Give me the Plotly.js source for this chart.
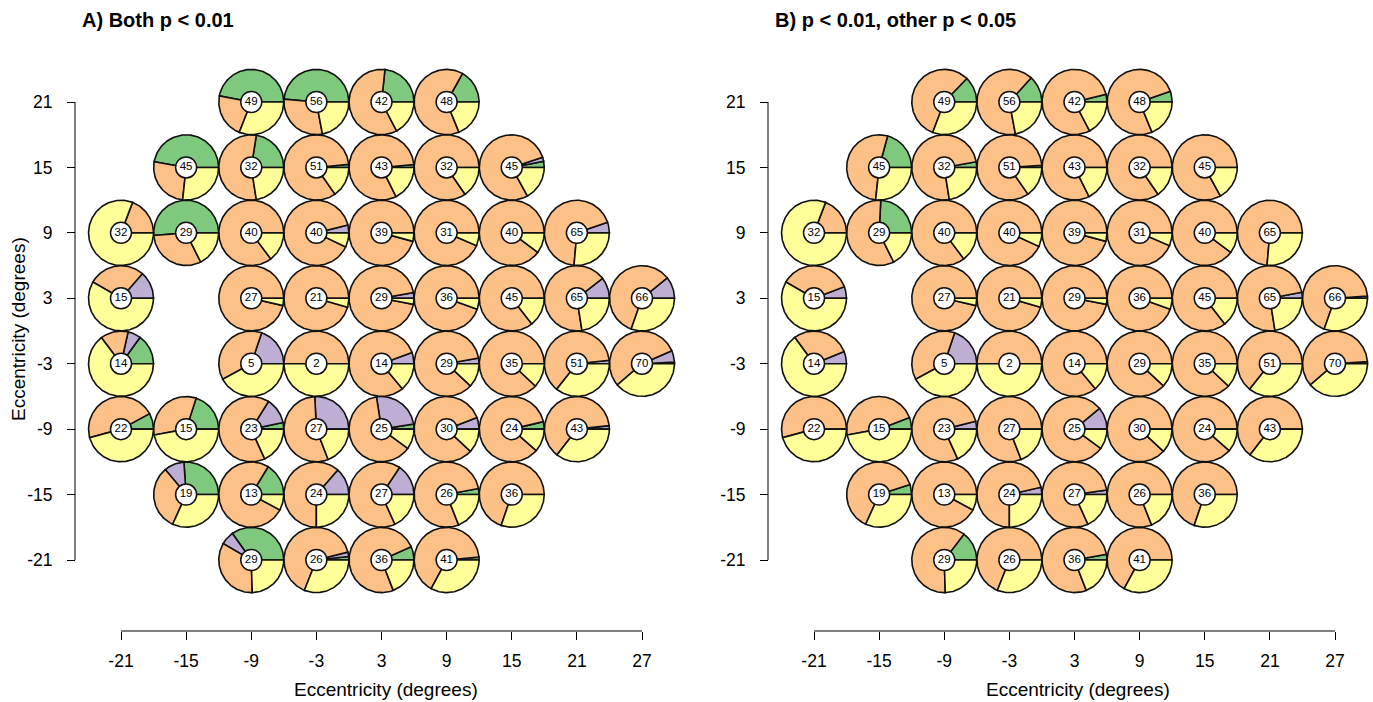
<!DOCTYPE html>
<html>
<head>
<meta charset="utf-8">
<script src="https://cdn.plot.ly/plotly-3.0.1.min.js"></script>
<style>html,body{margin:0;padding:0;background:#fff;}#chart{width:1373px;height:702px;}</style>
</head>
<body>
<div id="chart"></div>
<script>
// Cell centres (degrees) and counts shown in the centre of each pie
const cellX = [-9,-3,3,9,
  -15,-9,-3,3,9,15,
  -21,-15,-9,-3,3,9,15,21,
  -21,-9,-3,3,9,15,21,27,
  -21,-9,-3,3,9,15,21,27,
  -21,-15,-9,-3,3,9,15,21,
  -15,-9,-3,3,9,15,
  -9,-3,3,9];
const cellY = [21,21,21,21,
  15,15,15,15,15,15,
  9,9,9,9,9,9,9,9,
  3,3,3,3,3,3,3,3,
  -3,-3,-3,-3,-3,-3,-3,-3,
  -9,-9,-9,-9,-9,-9,-9,-9,
  -15,-15,-15,-15,-15,-15,
  -21,-21,-21,-21];
const counts = [49,56,42,48,
  45,32,51,43,32,45,
  32,29,40,40,39,31,40,65,
  15,27,21,29,36,45,65,66,
  14,5,2,14,29,35,51,70,
  22,15,23,27,25,30,24,43,
  19,13,24,27,26,36,
  29,26,36,41];

// Panel A: Both p < 0.01 (percent of each pie)
const greenA = [47,48.6,23.3,16.9,
  47.2,22.5,1.5,1.4,0,3,
  0,51.3,0,0,0,0,0,0,
  0,0,0,0,0,0,0,0,
  15,0,0,0,0,0,0,0.8,
  7.9,20,3.3,0,2.5,0,3.7,0,
  26.1,16.3,0,0,3,0,
  34.9,1.7,6.7,1.4];
const purpleA = [0,0,0,0,
  0,0,0,0,0,2,
  0,0,0,3.9,0,0,0,5.3,
  13.6,0,0,2.8,0,0,10.5,10.8,
  6.5,19.8,0,5.6,2.8,0,1.7,5.7,
  0,0,12.8,25.8,25,5.8,0,1.7,
  10,0,13.6,15.6,0,0,
  6.7,2.2,0,0];
const orangeA = [22,29.4,59.4,64.3,
  26.1,55,83.2,81,84.6,78,
  19.2,31.1,85.3,89,95.8,93.6,89.8,68.3,
  28.1,96.4,95.6,94.2,94.6,85.6,67,58.8,
  13.8,38.1,50,80.5,85.3,88,62.6,54.8,
  46.3,32.9,65.7,55.1,62.5,82.3,84.9,62.8,
  32.1,75.9,61.4,66.2,78,69.7,
  33.9,65.1,74.2,65.7];
const yellowA = [31,22,17.3,18.8,
  26.7,22.5,15.3,17.6,15.4,17,
  80.8,17.6,14.7,7.1,4.2,6.4,10.2,26.4,
  58.3,3.6,4.4,3,5.4,14.4,22.5,30.4,
  64.7,42.1,50,13.9,11.9,12,35.7,38.7,
  45.8,47.1,18.2,19.1,10,11.9,11.4,35.5,
  31.8,7.8,25,18.2,19,30.3,
  24.5,31,19.1,32.9];

// Panel B: p < 0.01, other p < 0.05
const greenB = [12.8,13.3,3.8,5.3,
  20.8,2.8,1.1,0,0,0,
  0,24.2,0,0,0,0,0,0,
  0,0,0,0,0,0,0,0,
  0,0,0,0,0,0,0,0,
  0,5.8,0,0,0,0,0,0,
  5,0,0,0,0,0,
  14.6,0,2.8,0];
const purpleB = [0,0,0,0,
  0,0,0,0,0,0,
  0,0,0,0,0,0,0,0,
  5.8,0,0,0,0,0,3,1.1,
  6.1,19.8,0,0,0,0,0,1,
  0,0,3.9,0,11,0,0,0,
  0,0,3.6,2.2,0,0,
  0,0,0,0];
const orangeB = [56.4,64.7,78.9,75.9,
  52.5,74.7,83.6,82.4,84.6,83,
  19.2,58.2,85.3,93.2,95.8,93.6,89.8,73.6,
  35.9,96.4,95.6,97,94.6,85.6,74.5,68.5,
  29,38.1,50,86.1,88.1,88,64.3,60.3,
  54.2,47.1,77.9,80.9,79,88.1,88.6,64.5,
  63.2,92.2,71.4,79.6,81,69.7,
  60.9,69,78.1,67.1];
const yellowB = [30.8,22,17.3,18.8,
  26.7,22.5,15.3,17.6,15.4,17,
  80.8,17.6,14.7,6.8,4.2,6.4,10.2,26.4,
  58.3,3.6,4.4,3,5.4,14.4,22.5,30.4,
  64.9,42.1,50,13.9,11.9,12,35.7,38.7,
  45.8,47.1,18.2,19.1,10,11.9,11.4,35.5,
  31.8,7.8,25,18.2,19,30.3,
  24.5,31,19.1,32.9];

const xTicks = [-21,-15,-9,-3,3,9,15,21,27];
const yTicks = [-21,-15,-9,-3,3,9,15,21];
const categoryColors = ['#7FC97F','#BEAED4','#FDC086','#FFFF99'];
const panelTitles = ['A) Both p < 0.01','B) p < 0.01, other p < 0.05'];
const axisTitle = 'Eccentricity (degrees)';

const R = 2.99;
function buildWedges(series, xa, ya) {
  const traces = [];
  for (let c = 0; c < 4; c++) {
    const xs = [], ys = [];
    for (let i = 0; i < cellX.length; i++) {
      const vals = series.map(s => s[i]);
      const tot = vals.reduce((a,b)=>a+b,0);
      let start = 0;
      for (let k = 0; k < c; k++) start += vals[k];
      const v = vals[c];
      if (v <= 0) continue;
      const a0 = start / tot * 2 * Math.PI, a1 = (start + v) / tot * 2 * Math.PI;
      xs.push(cellX[i]); ys.push(cellY[i]);
      const n = Math.max(2, Math.ceil((a1 - a0) / (Math.PI / 120)));
      for (let j = 0; j <= n; j++) {
        const a = a0 + (a1 - a0) * j / n;
        xs.push(cellX[i] + R * Math.cos(a));
        ys.push(cellY[i] + R * Math.sin(a));
      }
      xs.push(cellX[i]); ys.push(cellY[i]);
      xs.push(null); ys.push(null);
    }
    traces.push({
      type: 'scatter', mode: 'lines', x: xs, y: ys, xaxis: xa, yaxis: ya,
      fill: 'toself', fillcolor: categoryColors[c],
      line: {color: '#111', width: 1.6}, hoverinfo: 'skip', showlegend: false
    });
  }
  traces.push({
    type: 'scatter', mode: 'markers+text', x: cellX, y: cellY, xaxis: xa, yaxis: ya,
    text: counts.map(String), textposition: 'middle center',
    textfont: {family: 'Liberation Sans, Arial, sans-serif', size: 11.5, color: '#000'},
    marker: {size: 21, color: '#fff', line: {color: '#111', width: 1.5}},
    hoverinfo: 'skip', showlegend: false
  });
  return traces;
}

const data = [
  ...buildWedges([greenA, purpleA, orangeA, yellowA], 'x', 'y'),
  ...buildWedges([greenB, purpleB, orangeB, yellowB], 'x2', 'y2')
];

const W = 1373, H = 702;
const sx = 521 / 48, sy = 458 / 42;
const tickFont = {family: 'Liberation Sans, Arial, sans-serif', size: 17.5, color: '#000'};
const titleFont = {family: 'Liberation Sans, Arial, sans-serif', size: 19, color: '#000'};
function xAxis(leftPx, rightPx, zeroPx) {
  return {
    domain: [leftPx / W, rightPx / W],
    range: [-21 - (zeroPx - leftPx) / sx, -21 + (rightPx - zeroPx) / sx],
    anchor: 'free', position: 1 - 631 / H,
    tickvals: xTicks, ticktext: xTicks.map(String),
    ticks: 'outside', ticklen: 8, tickwidth: 1, tickcolor: '#000',
    ticklabelstandoff: 6,
    showline: false, showgrid: false, zeroline: false, tickfont: tickFont
  };
}
function yAxis(linePx) {
  return {
    domain: [1 - 610 / H, 1 - 50 / H],
    range: [-21 - (610 - 560) / sy, 21 + (102 - 50) / sy],
    anchor: 'free', position: linePx / W,
    tickvals: yTicks, ticktext: yTicks.map(String),
    ticks: 'outside', ticklen: 8, tickwidth: 1, tickcolor: '#000',
    ticklabelstandoff: 11,
    showline: false, showgrid: false, zeroline: false, tickfont: tickFont
  };
}

const layout = {
  width: W, height: H,
  margin: {l: 0, r: 0, t: 0, b: 0},
  paper_bgcolor: '#fff', plot_bgcolor: 'rgba(0,0,0,0)',
  showlegend: false,
  xaxis: xAxis(70, 690, 121),
  yaxis: yAxis(75),
  xaxis2: xAxis(763, 1373, 814),
  yaxis2: yAxis(768),
  shapes: [
    {type: 'line', xref: 'x', yref: 'paper', x0: xTicks[0], x1: xTicks[xTicks.length-1], y0: 1 - 631 / H, y1: 1 - 631 / H, line: {color: '#000', width: 1}},
    {type: 'line', xref: 'x2', yref: 'paper', x0: xTicks[0], x1: xTicks[xTicks.length-1], y0: 1 - 631 / H, y1: 1 - 631 / H, line: {color: '#000', width: 1}},
    {type: 'line', xref: 'paper', yref: 'y', x0: 75 / W, x1: 75 / W, y0: yTicks[0], y1: yTicks[yTicks.length-1], line: {color: '#000', width: 1}},
    {type: 'line', xref: 'paper', yref: 'y2', x0: 768 / W, x1: 768 / W, y0: yTicks[0], y1: yTicks[yTicks.length-1], line: {color: '#000', width: 1}}
  ],
  annotations: [
    {text: '<b>' + panelTitles[0].replace(/</g,'&lt;') + '</b>', xref: 'paper', yref: 'paper', x: 80 / W, y: 1 - 20 / H, xanchor: 'left', yanchor: 'middle', showarrow: false, font: {family: 'Liberation Sans, Arial, sans-serif', size: 20, color: '#000'}},
    {text: '<b>' + panelTitles[1].replace(/</g,'&lt;') + '</b>', xref: 'paper', yref: 'paper', x: 773 / W, y: 1 - 20 / H, xanchor: 'left', yanchor: 'middle', showarrow: false, font: {family: 'Liberation Sans, Arial, sans-serif', size: 20, color: '#000'}},
    {text: axisTitle, xref: 'paper', yref: 'paper', x: 386 / W, y: 1 - 689 / H, xanchor: 'center', yanchor: 'middle', showarrow: false, font: titleFont},
    {text: axisTitle, xref: 'paper', yref: 'paper', x: 1078 / W, y: 1 - 689 / H, xanchor: 'center', yanchor: 'middle', showarrow: false, font: titleFont},
    {text: axisTitle, xref: 'paper', yref: 'paper', x: 18 / W, y: 1 - 329 / H, xanchor: 'center', yanchor: 'middle', textangle: -90, showarrow: false, font: titleFont}
  ]
};

Plotly.newPlot('chart', data, layout, {staticPlot: true, displayModeBar: false});
</script>
</body>
</html>
